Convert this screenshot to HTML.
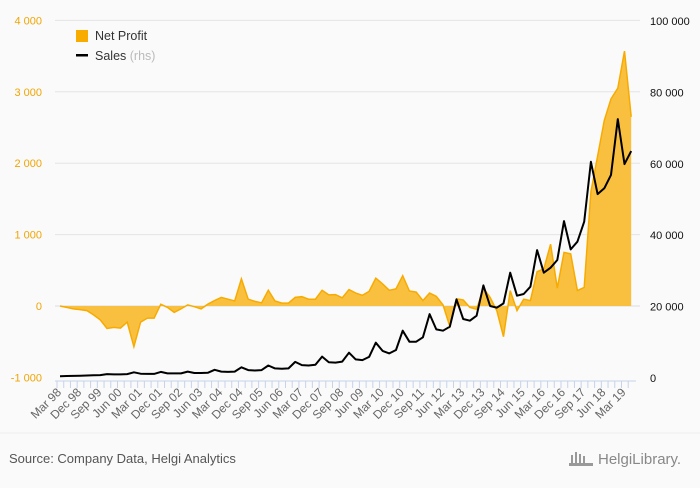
<!DOCTYPE html>
<html><head><meta charset="utf-8"><style>
body{margin:0;background:#fafafa;font-family:"Liberation Sans",sans-serif;}
svg text{font-family:"Liberation Sans",sans-serif;}
</style></head><body>
<svg id="c" width="700" height="483" viewBox="0 0 700 483" xmlns="http://www.w3.org/2000/svg">
<rect width="700" height="483" fill="#fafafa"/>
<g id="grid"></g>
<g id="marks"></g>
<g id="axes"></g>
<g>
<rect x="76" y="30" width="12" height="12" fill="#f9ac00"/>
<text x="95" y="40" font-size="12.5" fill="#333">Net Profit</text>
<rect x="76" y="54" width="12" height="2.5" fill="#000"/>
<text x="95" y="60" font-size="12.5" fill="#333">Sales <tspan fill="#bbb">(rhs)</tspan></text>
</g>
<line x1="0" y1="433" x2="700" y2="433" stroke="#eee"/>
<text x="9" y="463" font-size="13" fill="#555">Source: Company Data, Helgi Analytics</text>
<text x="598" y="464" font-size="15" fill="#888" font-family="Liberation Serif">HelgiLibrary.</text>
<g fill="#999"><rect x="571" y="455" width="2" height="8"/><rect x="575" y="452" width="2" height="11"/><rect x="579" y="454" width="2" height="9"/><rect x="583" y="456" width="2" height="7"/><rect x="569" y="463" width="24" height="3"/></g>
</svg>
<script>
const categories=["Mar 98","Dec 98","Sep 99","Jun 00","Mar 01","Dec 01","Sep 02","Jun 03","Mar 04","Dec 04","Sep 05","Jun 06","Mar 07","Dec 07","Sep 08","Jun 09","Mar 10","Dec 10","Sep 11","Jun 12","Mar 13","Dec 13","Sep 14","Jun 15","Mar 16","Dec 16","Sep 17","Jun 18","Mar 19"];
const netProfit=[0,-20,-40,-50,-65,-125,-195,-315,-300,-310,-225,-570,-225,-170,-170,25,-20,-90,-40,15,-10,-40,25,75,120,95,70,380,95,65,45,220,70,40,40,120,130,95,95,220,155,160,115,230,180,150,205,390,310,220,240,425,210,195,75,180,135,15,-285,100,85,-20,-45,250,120,-65,-430,215,-65,95,75,480,520,865,250,750,730,215,260,1600,2100,2600,2900,3050,3570,2650];
const sales=[500,550,600,650,700,750,800,1100,1000,1000,1100,1600,1200,1150,1150,1700,1300,1300,1300,1800,1400,1400,1450,2300,1800,1700,1800,3000,2200,2100,2200,3500,2700,2600,2700,4500,3600,3500,3700,6000,4400,4300,4600,7100,5200,5000,5900,9900,7600,6900,7840,13250,10170,10170,11400,17900,13600,13250,14370,22030,16520,16050,17450,25950,20170,19700,20900,29500,23050,23520,25570,35840,29500,30900,33050,43960,36030,38180,43770,60570,51520,53130,56890,72520,59920,63560];
const leftTicks=[-1000,0,1000,2000,3000,4000];
const rightTicks=[0,20000,40000,60000,80000,100000];
const NS="http://www.w3.org/2000/svg";
const X0=60,DX=6.72,Y0=306,PY=71.4/1000,SY=357/100000,SB=378;
const xs=i=>X0+i*DX, yl=v=>Y0-v*PY, yr=v=>SB-v*SY;
const fmt=v=>{const s=Math.abs(v).toString().replace(/\B(?=(\d{3})+(?!\d))/g,' ');return (v<0?'-':'')+s;};
function mk(tag,attrs,parent){const e=document.createElementNS(NS,tag);for(const k in attrs)e.setAttribute(k,attrs[k]);parent.appendChild(e);return e;}
const grid=document.getElementById('grid'),marks=document.getElementById('marks'),axes=document.getElementById('axes');
leftTicks.forEach((v,k)=>{
 const y=yl(v);
 if(v!==-1000){const l=mk('line',{x1:55,x2:640,y1:y,y2:y,stroke:v===0?'#dcdcdc':'#e4e4e4'},grid);
 
 }
 const t=mk('text',{x:42,y:y+4,'font-size':11,fill:'#f0a500','text-anchor':'end'},axes);t.textContent=fmt(v);
 
 
});
rightTicks.forEach(v=>{
 const t=mk('text',{x:650,y:yr(v)+4,'font-size':11,fill:'#111'},axes);t.textContent=fmt(v);
 
 
});
let d=`M${xs(0)},${Y0}`;netProfit.forEach((v,i)=>d+=`L${xs(i).toFixed(1)},${yl(v).toFixed(1)}`);d+=`L${xs(netProfit.length-1)},${Y0}Z`;
const area=mk('path',{d:d,fill:'#f9c040'},marks);


const pl=mk('polyline',{points:netProfit.map((v,i)=>xs(i).toFixed(1)+','+yl(v).toFixed(1)).join(' '),fill:'none',stroke:'#f7ab00','stroke-width':1.5},marks);


const sl=mk('polyline',{points:sales.map((v,i)=>xs(i).toFixed(1)+','+yr(v).toFixed(1)).join(' '),fill:'none',stroke:'#000','stroke-width':2,'stroke-linejoin':'round'},marks);


const ax=mk('line',{x1:55,x2:636,y1:381,y2:381,stroke:'#c5d3ea'},axes);


for(let i=0;i<netProfit.length;i++){
 const t=mk('line',{x1:xs(i)-3,x2:xs(i)-3,y1:381,y2:388,stroke:'#c5d3ea'},axes);
 
 
}
categories.forEach((c,k)=>{
 const x=xs(k*3)+2,y=393;
 const t=mk('text',{x:x,y:y,'font-size':12,fill:'#666','text-anchor':'end',transform:`rotate(-45 ${x} ${y})`},axes);
 t.textContent=c;
 
 
});
</script>
</body></html>
